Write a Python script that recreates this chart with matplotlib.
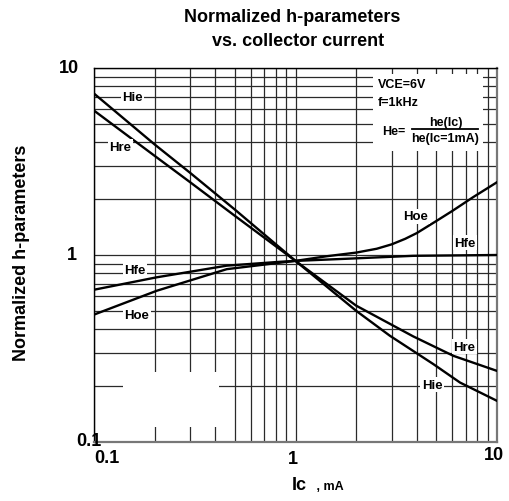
import matplotlib
matplotlib.use("Agg")
import matplotlib.pyplot as plt
from matplotlib import transforms
from matplotlib.patches import Rectangle
from matplotlib.ticker import LogLocator, NullFormatter

plt.rcParams['font.family'] = ['Liberation Sans', 'DejaVu Sans']
plt.rcParams['font.weight'] = 'bold'

# ---- data ----
ic_hie = [0.1, 0.2, 0.3, 0.5, 1.0, 2.0, 2.94, 4.83, 6.55, 10.0]
hie = [7.3, 3.9, 2.75, 1.75, 0.93, 0.503, 0.37, 0.261, 0.208, 0.166]

ic_hre = [0.1, 0.2, 0.3, 0.5, 1.0, 2.0, 3.84, 6.07, 10.0]
hre = [5.92, 3.39, 2.45, 1.62, 0.93, 0.536, 0.367, 0.289, 0.24]

ic_hfe = [0.1, 0.205, 0.456, 0.84, 1.0, 1.8, 3.84, 10.0]
hfe = [0.652, 0.76, 0.877, 0.92, 0.93, 0.955, 0.99, 1.0]

ic_hoe = [0.1, 0.205, 0.456, 0.84, 1.0, 1.43, 2.0, 2.53, 3.0, 3.5, 4.0, 5.0, 6.0, 7.62, 10.0]
hoe = [0.48, 0.644, 0.84, 0.91, 0.93, 0.985, 1.03, 1.08, 1.14, 1.22, 1.31, 1.52, 1.72, 2.04, 2.45]

tick_vals = [0.1, 1, 10]
tick_labels = ["0.1", "1", "10"]

curve_labels = [
    ("Hie", 0.155, 7.0), ("Hre", 0.135, 3.8), ("Hfe", 0.16, 0.83), ("Hoe", 0.163, 0.478),
    ("Hoe", 3.96, 1.61), ("Hfe", 6.94, 1.16), ("Hre", 6.89, 0.323), ("Hie", 4.77, 0.202),
]

fig = plt.figure(figsize=(5.10, 5.02), dpi=100)
ax = fig.add_axes([94/510, 59/502, 403/510, 374/502])
ax.set_xscale('log')
ax.set_yscale('log')
ax.set_xlim(0.1, 10)
ax.set_ylim(0.1, 10)

ax.xaxis.set_major_locator(LogLocator(base=10))
ax.yaxis.set_major_locator(LogLocator(base=10))
ax.xaxis.set_minor_locator(LogLocator(base=10, subs=range(2, 10)))
ax.yaxis.set_minor_locator(LogLocator(base=10, subs=range(2, 10)))
ax.xaxis.set_major_formatter(NullFormatter())
ax.yaxis.set_major_formatter(NullFormatter())
ax.xaxis.set_minor_formatter(NullFormatter())
ax.yaxis.set_minor_formatter(NullFormatter())
ax.tick_params(which='both', length=0)
ax.set_axisbelow(True)
ax.grid(True, which='both', color='#2a2a2a', lw=0.9)

for s in ['left', 'top']:
    ax.spines[s].set_color('black')
    ax.spines[s].set_linewidth(1.0)
for s in ['bottom', 'right']:
    ax.spines[s].set_color('#777777')
    ax.spines[s].set_linewidth(1.6)

# white patches erasing grid
ax.add_patch(Rectangle((0.072, 0.040), 0.238, 0.147, transform=ax.transAxes,
                       facecolor='white', edgecolor='none', zorder=1))
ax.add_patch(Rectangle((0.692, 0.778), 0.273, 0.206, transform=ax.transAxes,
                       facecolor='white', edgecolor='none', zorder=1))

lw = 1.7
ax.plot(ic_hie, hie, color='black', lw=lw, zorder=3)
ax.plot(ic_hre, hre, color='black', lw=lw, zorder=3)
ax.plot(ic_hfe, hfe, color='black', lw=lw, zorder=3)
ax.plot(ic_hoe, hoe, color='black', lw=lw, zorder=3)

for txt, x, y in curve_labels:
    ax.text(x, y, txt, fontsize=9.5, fontweight='bold', ha='center', va='center', zorder=4,
            bbox=dict(facecolor='white', edgecolor='none', pad=1.0))

# annotation box
fs_box = 9.0
ax.text(0.705, 0.957, "VCE=6V", transform=ax.transAxes, fontsize=fs_box, fontweight='bold',
        ha='left', va='center', zorder=4)
ax.text(0.705, 0.910, "f=1kHz", transform=ax.transAxes, fontsize=fs_box, fontweight='bold',
        ha='left', va='center', zorder=4)
ax.text(0.716, 0.832, "He=", transform=ax.transAxes, fontsize=fs_box, fontweight='bold',
        ha='left', va='center', zorder=4)
ax.text(0.872, 0.856, "he(Ic)", transform=ax.transAxes, fontsize=fs_box, fontweight='bold',
        ha='center', va='center', zorder=4)
ax.text(0.870, 0.812, "he(Ic=1mA)", transform=ax.transAxes, fontsize=fs_box, fontweight='bold',
        ha='center', va='center', zorder=4)
ax.plot([0.788, 0.952], [0.837, 0.837], transform=ax.transAxes, color='black', lw=1.3, zorder=4)

# tick labels
xoff = {0.1: (12.7, -16), 1: (-2.5, -17), 10: (-3.5, -13)}
yoff = {0.1: (-5, 1.5), 1: (-22, 0), 10: (-25, 0.7)}
bx = transforms.blended_transform_factory(ax.transData, ax.transAxes)
by = transforms.blended_transform_factory(ax.transAxes, ax.transData)
for v, lbl in zip(tick_vals, tick_labels):
    dx, dy = xoff[v]
    ax.text(v, 0, lbl, transform=transforms.offset_copy(bx, fig, x=dx, y=dy, units='dots'),
            fontsize=13, fontweight='bold', ha='center', va='center', clip_on=False)
    dx, dy = yoff[v]
    ax.text(0, v, lbl, transform=transforms.offset_copy(by, fig, x=dx, y=dy, units='dots'),
            fontsize=13, fontweight='bold', ha='center', va='center', clip_on=False, zorder=5)

# title and axis labels
fs_t = 13
fig.text(292.5/510, 1 - 17.5/502, "Normalized h-parameters", fontsize=fs_t, fontweight='bold',
         ha='center', va='center')
fig.text(298/510, 1 - 42/502, "vs. collector current", fontsize=fs_t, fontweight='bold',
         ha='center', va='center')
fig.text(21.5/510, 1 - 252.5/502, "Normalized h-parameters", fontsize=fs_t, fontweight='bold',
         ha='center', va='center', rotation=90)
fig.text(292/510, 1 - 490/502, "Ic", fontsize=13, fontweight='bold', ha='left', va='baseline')
fig.text(313/510, 1 - 490/502, " , mA", fontsize=9, fontweight='bold', ha='left', va='baseline')

fig.savefig("out.png", dpi=100)
